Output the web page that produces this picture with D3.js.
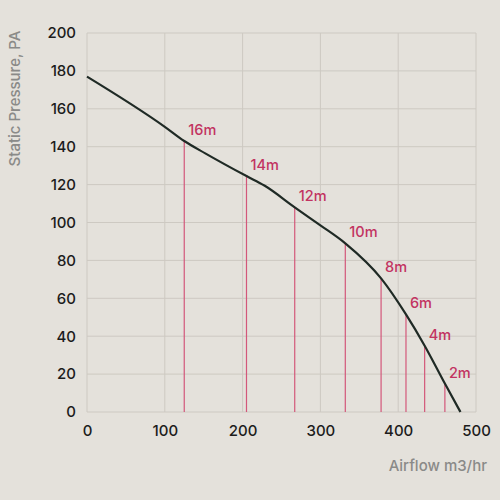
<!DOCTYPE html>
<html>
<head>
<meta charset="utf-8">
<script src="https://cdn.jsdelivr.net/npm/d3@7"></script>
<style>
  html, body { margin: 0; padding: 0; background: #e4e1db; }
  svg { display: block; font-family: "Inter", "Open Sans", sans-serif; }
</style>
</head>
<body>
<div id="chart"></div>
<script>
// fan curve (airflow m3/hr, static pressure Pa)
var curveFlow     = [0, 100, 125, 152, 205, 228, 267, 300, 332, 378, 410, 434, 460, 480];
var curvePressure = [177, 150.5, 143, 136.5, 124.5, 119.5, 108, 98.5, 89, 70.5, 51.5, 35, 15, 0];

// duct length markers
var markerLabels   = ["16m", "14m", "12m", "10m", "8m", "6m", "4m", "2m"];
var markerFlow     = [125, 205, 267, 332, 378, 410, 434, 460];
var markerPressure = [143, 124.5, 108, 89, 70.5, 51.5, 35, 15];

var xTicks = [0, 100, 200, 300, 400, 500];
var yTicks = [0, 20, 40, 60, 80, 100, 120, 140, 160, 180, 200];

var svgWidth = 500, svgHeight = 500;
var margin = { top: 33, right: 24, bottom: 88, left: 87 };
var width = svgWidth - margin.left - margin.right;
var height = svgHeight - margin.top - margin.bottom;

var svg = d3.select("#chart").append("svg")
    .attr("width", svgWidth)
    .attr("height", svgHeight);

svg.append("rect")
    .attr("width", svgWidth)
    .attr("height", svgHeight)
    .attr("fill", "#e4e1db");

var g = svg.append("g")
    .attr("transform", "translate(" + margin.left + "," + margin.top + ")");

var x = d3.scaleLinear().domain([0, 500]).range([0, width]);
var y = d3.scaleLinear().domain([0, 200]).range([height, 0]);

// grid
g.selectAll(".vgrid")
    .data(xTicks)
    .enter().append("line")
    .attr("x1", d => x(d)).attr("x2", d => x(d))
    .attr("y1", 0).attr("y2", height)
    .attr("stroke", "#cdc9c2")
    .attr("stroke-width", 1);

g.selectAll(".hgrid")
    .data(yTicks)
    .enter().append("line")
    .attr("x1", 0).attr("x2", width)
    .attr("y1", d => y(d)).attr("y2", d => y(d))
    .attr("stroke", "#cdc9c2")
    .attr("stroke-width", 1);

// axes (labels only)
var xAxis = g.append("g")
    .attr("transform", "translate(0," + height + ")")
    .call(d3.axisBottom(x).tickValues(xTicks).tickSize(0).tickPadding(13));

var yAxis = g.append("g")
    .call(d3.axisLeft(y).tickValues(yTicks).tickSize(0).tickPadding(11));

[xAxis, yAxis].forEach(function(a) {
    a.select(".domain").remove();
    a.selectAll("text")
        .attr("fill", "#1c1c1c")
        .style("font-size", "15px")
        .style("font-weight", "500")
        .style("font-family", "Inter, sans-serif");
});

// marker lines
var markers = markerLabels.map(function(lbl, i) {
    return { label: lbl, flow: markerFlow[i], pressure: markerPressure[i] };
});

g.selectAll(".marker")
    .data(markers)
    .enter().append("line")
    .attr("x1", d => x(d.flow)).attr("x2", d => x(d.flow))
    .attr("y1", y(0)).attr("y2", d => y(d.pressure))
    .attr("stroke", "#d3577a")
    .attr("stroke-width", 1.2);

// curve
var curveData = curveFlow.map(function(f, i) {
    return { flow: f, pressure: curvePressure[i] };
});

var line = d3.line()
    .x(d => x(d.flow))
    .y(d => y(d.pressure))
    .curve(d3.curveMonotoneX);

g.append("path")
    .datum(curveData)
    .attr("d", line)
    .attr("fill", "none")
    .attr("stroke", "#1f2a25")
    .attr("stroke-width", 2.2);

// marker labels
g.selectAll(".mlabel")
    .data(markers)
    .enter().append("text")
    .attr("x", d => x(d.flow) + 4)
    .attr("y", d => y(d.pressure) - 6)
    .attr("fill", "#c23361")
    .style("font-size", "14.5px")
    .style("font-weight", "500")
    .text(d => d.label);

// axis titles
svg.append("text")
    .attr("x", 487)
    .attr("y", 471)
    .attr("text-anchor", "end")
    .attr("fill", "#8a8a88")
    .style("font-size", "15px")
    .style("font-weight", "500")
    .text("Airflow m3/hr");

svg.append("text")
    .attr("transform", "translate(19.5,98.5) rotate(-90)")
    .attr("text-anchor", "middle")
    .attr("fill", "#8a8a88")
    .style("font-size", "15px")
    .style("font-weight", "500")
    .text("Static Pressure, PA");
</script>
</body>
</html>
